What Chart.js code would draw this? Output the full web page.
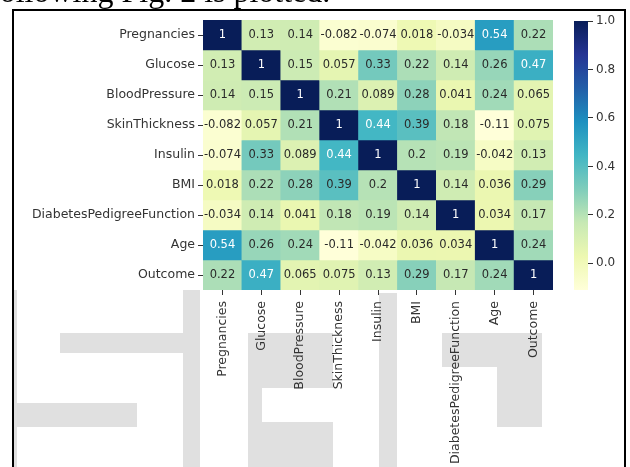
<!DOCTYPE html>
<html>
<head>
<meta charset="utf-8">
<script src="https://cdn.jsdelivr.net/npm/chart.js@4.4.1/dist/chart.umd.min.js"></script>
<style>
  body { margin: 0; width: 630px; height: 467px; position: relative; overflow: hidden; background: #fff; }
  canvas { position: absolute; top: 0; }
</style>
</head>
<body>
<canvas id="bg" width="630" height="467" style="left:0"></canvas>
<canvas id="heatmap" width="560" height="467" style="left:0"></canvas>
<canvas id="colorbar" width="70" height="467" style="left:560px"></canvas>
<script>
// feature names (rows top to bottom, columns left to right)
const features = ['Pregnancies', 'Glucose', 'BloodPressure', 'SkinThickness', 'Insulin',
    'BMI', 'DiabetesPedigreeFunction', 'Age', 'Outcome'];

// correlation rows
const pregnancies   = [1, 0.13, 0.14, -0.082, -0.074, 0.018, -0.034, 0.54, 0.22];
const glucose       = [0.13, 1, 0.15, 0.057, 0.33, 0.22, 0.14, 0.26, 0.47];
const bloodPressure = [0.14, 0.15, 1, 0.21, 0.089, 0.28, 0.041, 0.24, 0.065];
const skinThickness = [-0.082, 0.057, 0.21, 1, 0.44, 0.39, 0.18, -0.11, 0.075];
const insulin       = [-0.074, 0.33, 0.089, 0.44, 1, 0.2, 0.19, -0.042, 0.13];
const bmi           = [0.018, 0.22, 0.28, 0.39, 0.2, 1, 0.14, 0.036, 0.29];
const pedigree      = [-0.034, 0.14, 0.041, 0.18, 0.19, 0.14, 1, 0.034, 0.17];
const age           = [0.54, 0.26, 0.24, -0.11, -0.042, 0.036, 0.034, 1, 0.24];
const outcome       = [0.22, 0.47, 0.065, 0.075, 0.13, 0.29, 0.17, 0.24, 1];

const matrix = [pregnancies, glucose, bloodPressure, skinThickness, insulin, bmi, pedigree, age, outcome];

// colorbar tick labels
const colorbarTicks = [0.0, 0.2, 0.4, 0.6, 0.8, 1.0];

const vmin = Math.min(...matrix.flat());
const vmax = Math.max(...matrix.flat());

// YlGnBu colormap
const ylgnbu = [[255,255,217],[237,248,177],[199,233,180],[127,205,187],[65,182,196],
    [29,145,192],[34,94,168],[37,52,148],[8,29,88]];

function cmapRgb(v) {
    let t = (v - vmin) / (vmax - vmin);
    t = Math.max(0, Math.min(1, t));
    const p = t * 8;
    const i = Math.min(7, Math.floor(p));
    const f = p - i;
    const a = ylgnbu[i], b = ylgnbu[i + 1];
    return [0, 1, 2].map(k => a[k] + (b[k] - a[k]) * f);
}

function cmap(v) {
    const c = cmapRgb(v);
    return 'rgb(' + c.map(Math.round).join(',') + ')';
}

function textColor(v) {
    const lin = cmapRgb(v).map(c => {
        c = c / 255;
        return c <= 0.03928 ? c / 12.92 : Math.pow((c + 0.055) / 1.055, 2.4);
    });
    const lum = 0.2126 * lin[0] + 0.7152 * lin[1] + 0.0722 * lin[2];
    return lum > 0.408 ? '#2a2a2a' : '#fff';
}

function fmt(v) {
    return parseFloat(v.toPrecision(2)).toString();
}

// page background: caption, frame, watermark
(function drawBackground() {
    const ctx = document.getElementById('bg').getContext('2d');
    ctx.fillStyle = '#e0e0e0';
    [
        [13, 290, 4, 177], [60, 333, 140, 20], [15, 403, 122, 24], [183, 290, 17, 177],
        [248, 333, 85, 55], [248, 388, 14, 79], [262, 422, 71, 45],
        [379, 293, 18, 174],
        [442, 333, 100, 34], [497, 367, 45, 60]
    ].forEach(r => ctx.fillRect(r[0], r[1], r[2], r[3]));

    ctx.fillStyle = '#000';
    ctx.font = "32px 'Liberation Serif'";
    ctx.textBaseline = 'alphabetic';
    ctx.fillText('following Fig. 2 is plotted.', -11, 2);

    ctx.fillRect(12, 9, 614, 2);
    ctx.fillRect(12, 9, 2, 458);
    ctx.fillRect(624, 9, 2, 458);
})();

const annotate = {
    id: 'annotate',
    afterDatasetsDraw(chart) {
        const ctx = chart.ctx;
        ctx.save();
        ctx.font = "11.5px 'DejaVu Sans'";
        ctx.textAlign = 'center';
        ctx.textBaseline = 'middle';
        chart.data.datasets.forEach((ds, i) => {
            chart.getDatasetMeta(i).data.forEach((bar, j) => {
                const v = matrix[i][j];
                ctx.fillStyle = textColor(v);
                ctx.fillText(fmt(v), bar.x, (bar.y + bar.base) / 2);
            });
        });
        ctx.restore();
    }
};

const heatCtx = document.getElementById('heatmap').getContext('2d');
new Chart(heatCtx, {
    type: 'bar',
    data: {
        labels: features,
        datasets: matrix.map((row, i) => ({
            label: features[i],
            data: row.map(() => 1),
            backgroundColor: row.map(cmap),
            borderWidth: 0,
            barPercentage: 1,
            categoryPercentage: 1
        }))
    },
    options: {
        responsive: false,
        animation: false,
        devicePixelRatio: 1,
        layout: { padding: { top: 20, right: 7, left: 0, bottom: 0 } },
        plugins: { legend: { display: false }, tooltip: { enabled: false } },
        scales: {
            x: {
                stacked: true,
                offset: true,
                border: { display: false },
                grid: { offset: false, drawOnChartArea: false, tickLength: 5, color: '#333' },
                ticks: {
                    autoSkip: false, minRotation: 90, maxRotation: 90, padding: 6,
                    color: '#333', font: { family: 'DejaVu Sans', size: 12.5 }
                },
                afterFit: scale => { scale.height = 177; }
            },
            y: {
                stacked: true,
                reverse: true,
                min: 0,
                max: features.length,
                border: { display: false },
                grid: { drawOnChartArea: false, tickLength: 5, color: '#333' },
                afterBuildTicks: scale => {
                    scale.ticks = features.map((f, i) => ({ value: i + 0.5 }));
                },
                ticks: {
                    padding: 3,
                    color: '#333',
                    font: { family: 'DejaVu Sans', size: 12.5 },
                    callback: value => features[Math.floor(value)]
                },
                afterFit: scale => { scale.width = 203; }
            }
        }
    },
    plugins: [annotate]
});

const cbCtx = document.getElementById('colorbar').getContext('2d');
new Chart(cbCtx, {
    type: 'bar',
    data: {
        labels: [''],
        datasets: [{
            data: [[vmin, vmax]],
            borderWidth: 0,
            barPercentage: 1,
            categoryPercentage: 1,
            backgroundColor: context => {
                const area = context.chart.chartArea;
                if (!area) return cmap(vmax);
                const g = context.chart.ctx.createLinearGradient(0, area.bottom, 0, area.top);
                ylgnbu.forEach((c, k) => g.addColorStop(k / 8, 'rgb(' + c.join(',') + ')'));
                return g;
            }
        }]
    },
    options: {
        responsive: false,
        animation: false,
        devicePixelRatio: 1,
        layout: { padding: { top: 21, left: 14, right: 0, bottom: 177 } },
        plugins: { legend: { display: false }, tooltip: { enabled: false } },
        scales: {
            x: { display: false },
            y: {
                position: 'right',
                min: vmin,
                max: vmax,
                border: { display: false },
                grid: { drawOnChartArea: false, tickLength: 5, color: '#333' },
                afterBuildTicks: scale => {
                    scale.ticks = colorbarTicks.map(v => ({ value: v }));
                },
                ticks: {
                    padding: 3,
                    color: '#333',
                    font: { family: 'DejaVu Sans', size: 12 },
                    callback: value => value.toFixed(1)
                },
                afterFit: scale => { scale.width = 42; }
            }
        }
    }
});
</script>
</body>
</html>
